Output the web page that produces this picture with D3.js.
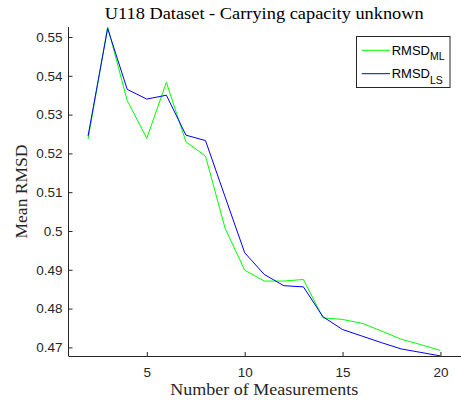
<!DOCTYPE html>
<html>
<head>
<meta charset="utf-8">
<script src="https://cdn.jsdelivr.net/npm/d3@7"></script>
<style>
  html, body { margin: 0; padding: 0; background: #fff; }
  svg { display: block; }
</style>
</head>
<body>
<script>
// ---- data ----
const measurements = [2,3,4,5,6,7,8,9,10,11,12,13,14,15,16,17,18,19,20];
const rmsdML = [0.5237,0.5526,0.5336,0.5239,0.5383,0.5230,0.5193,0.5007,0.4899,0.4871,0.4871,0.4875,0.4776,0.4772,0.4762,0.4742,0.4721,0.4707,0.4692];
const rmsdLS = [0.5245,0.5522,0.5365,0.5340,0.5350,0.5247,0.5233,0.5088,0.4944,0.4888,0.4859,0.4856,0.4779,0.4746,0.4729,0.4712,0.4696,0.4687,0.4678];
const xTicks = [5,10,15,20];
const yTicks = [0.47,0.48,0.49,0.50,0.51,0.52,0.53,0.54,0.55];
const yTickLabels = ["0.47","0.48","0.49","0.5","0.51","0.52","0.53","0.54","0.55"];
const seriesNames = [["RMSD","ML"],["RMSD","LS"]];
const seriesColors = ["#00ff00","#0000ff"];
const titleText = "U118 Dataset - Carrying capacity unknown";
const xLabel = "Number of Measurements";
const yLabel = "Mean RMSD";

// ---- layout ----
const W = 461, H = 406;
const L = 68.5, R = 460, T = 27, B = 356;
const axisColor = "#262626";

const svg = d3.select("body").append("svg").attr("width", W).attr("height", H);

const x = d3.scaleLinear().domain([1, 21]).range([L, R]);
const y = d3.scaleLinear().domain([0.46778, 0.55258]).range([B, T]);

// lines
const series = [rmsdML, rmsdLS];
const line = d3.line().x((d, i) => x(measurements[i])).y(d => y(d));
series.forEach((s, k) => {
  svg.append("path").datum(s)
    .attr("fill", "none")
    .attr("stroke", seriesColors[k])
    .attr("stroke-width", 1)
    .attr("d", line);
});

// axes
const xAxis = d3.axisBottom(x).tickValues(xTicks).tickSizeInner(-4).tickSizeOuter(0).tickPadding(11);
const gx = svg.append("g").attr("transform", `translate(0,${B})`).call(xAxis);
const yAxis = d3.axisLeft(y).tickValues(yTicks).tickFormat((d, i) => yTickLabels[i]).tickSizeInner(-4).tickSizeOuter(0).tickPadding(6);
const gy = svg.append("g").attr("transform", `translate(${L},0)`).call(yAxis);
[gx, gy].forEach(g => {
  g.select(".domain").attr("stroke", axisColor).attr("stroke-width", 1);
  g.selectAll(".tick line").attr("stroke", axisColor);
  g.selectAll(".tick text").attr("fill", axisColor)
    .style("font-family", "'Liberation Sans', Arial, sans-serif").style("font-size", "13.5px");
});
gx.select(".domain").attr("d", `M${L},0.5H${W}`);
gy.select(".domain").attr("d", `M0,${T}V${B}`);

// title & labels
const serif = "'Liberation Serif', 'Times New Roman', serif";
svg.append("text").attr("x", (L + R) / 2).attr("y", 18.5)
  .attr("text-anchor", "middle").attr("fill", "#000")
  .attr("textLength", 319).attr("lengthAdjust", "spacingAndGlyphs")
  .style("font-family", serif).style("font-size", "17px").text(titleText);
svg.append("text").attr("x", (L + R) / 2).attr("y", 395)
  .attr("text-anchor", "middle").attr("fill", axisColor)
  .attr("textLength", 188).attr("lengthAdjust", "spacingAndGlyphs")
  .style("font-family", serif).style("font-size", "16.5px").text(xLabel);
svg.append("text").attr("transform", `translate(26.7,${(T + B) / 2}) rotate(-90)`)
  .attr("text-anchor", "middle").attr("fill", axisColor)
  .attr("textLength", 94).attr("lengthAdjust", "spacingAndGlyphs")
  .style("font-family", serif).style("font-size", "16.5px").text(yLabel);

// legend
const lg = svg.append("g");
lg.append("rect").attr("x", 356.5).attr("y", 36.5).attr("width", 93.5).attr("height", 51)
  .attr("fill", "#fff").attr("stroke", axisColor).attr("stroke-width", 1);
seriesNames.forEach((nm, k) => {
  const cy = 50.3 + k * 23.4;
  lg.append("line").attr("x1", 361.7).attr("x2", 390).attr("y1", cy).attr("y2", cy)
    .attr("stroke", seriesColors[k]).attr("stroke-width", 1);
  const t = lg.append("text").attr("x", 391.7).attr("y", cy + 4.5)
    .attr("fill", "#000")
    .style("font-family", "'Liberation Sans', Arial, sans-serif").style("font-size", "13px");
  t.append("tspan").text(nm[0]);
  t.append("tspan").attr("dy", 5.6).style("font-size", "10.5px").text(nm[1]);
});
</script>
</body>
</html>
